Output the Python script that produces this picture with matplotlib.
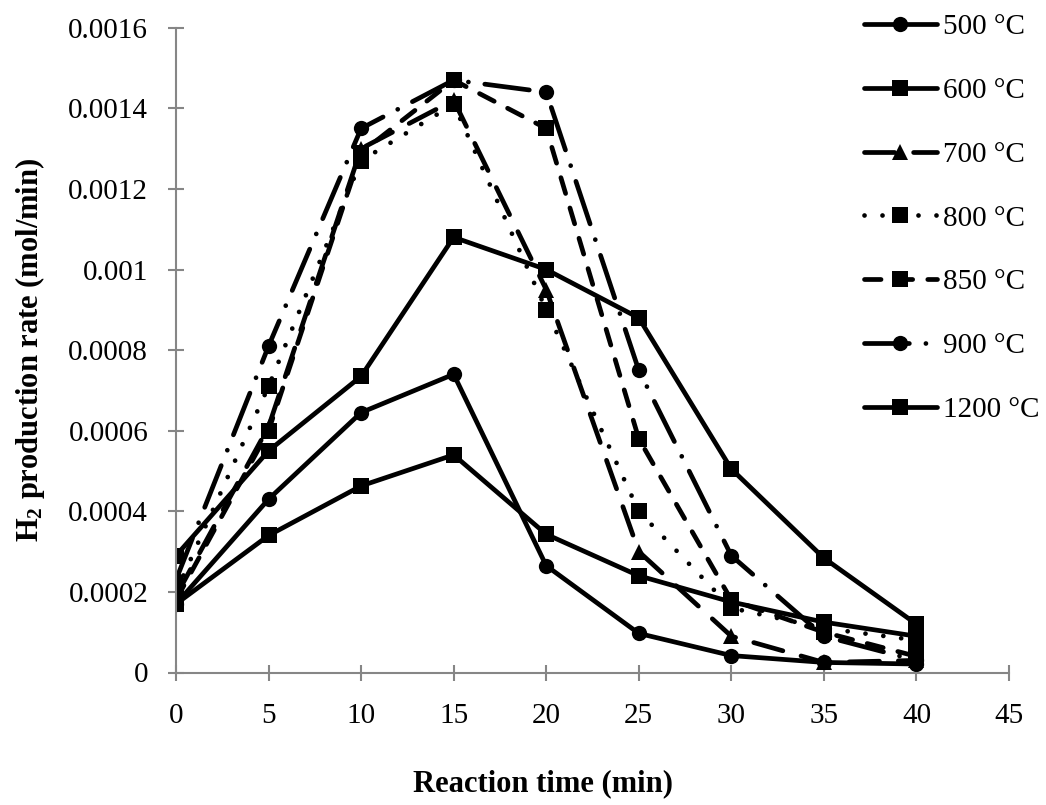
import matplotlib
matplotlib.use("Agg")
import matplotlib.pyplot as plt

plt.rcParams['font.family'] = ['Liberation Serif', 'DejaVu Serif']
plt.rcParams['mathtext.fontset'] = 'custom'
plt.rcParams['mathtext.rm'] = 'Liberation Serif'
plt.rcParams['mathtext.bf'] = 'Liberation Serif:bold'

#-----------------------
#      Data
#-----------------------
time_min = [0, 5, 10, 15, 20, 25, 30, 35, 40]

rate_500 = [0.00017, 0.00043, 0.000645, 0.00074, 0.000265, 0.000097, 0.000042, 0.000025, 0.000021]
rate_600 = [0.00017, 0.00034, 0.000463, 0.00054, 0.000343, 0.00024, 0.000175, 0.000125, 0.00009]
rate_700 = [0.00019, 0.00061, 0.0013, 0.00142, 0.00095, 0.0003, 0.00009, 0.000025, 0.00003]
rate_800 = [0.0002, 0.00071, 0.00127, 0.00141, 0.0009, 0.0004, 0.00016, 0.00011, 0.00008]
rate_850 = [0.00018, 0.0006, 0.00129, 0.00147, 0.00135, 0.00058, 0.00018, 0.0001, 0.00004]
rate_900 = [0.00023, 0.00081, 0.00135, 0.00147, 0.00144, 0.00075, 0.00029, 0.00009, 0.00003]
rate_1200 = [0.00029, 0.00055, 0.000735, 0.00108, 0.001, 0.00088, 0.000505, 0.000284, 0.00012]

labels = ['500 °C', '600 °C', '700 °C', '800 °C', '850 °C', '900 °C', '1200 °C']

xticks = [0, 5, 10, 15, 20, 25, 30, 35, 40, 45]
yticks = [0, 0.0002, 0.0004, 0.0006, 0.0008, 0.001, 0.0012, 0.0014, 0.0016]
ytick_labels = ['0', '0.0002', '0.0004', '0.0006', '0.0008', '0.001', '0.0012', '0.0014', '0.0016']

#-----------------------
#      Plot
#-----------------------
fig = plt.figure(figsize=(10.46, 8.05), dpi=100)
ax = fig.add_axes([176/1046, 1 - 672.5/805, (1009-176)/1046, (672.5-27.7)/805])

lw = 3.4
series = [
	(rate_500, 'o', None),
	(rate_600, 's', None),
	(rate_700, '^', (6.4, 4.0)),
	(rate_800, 's', (0.01, 3.8)),
	(rate_850, 's', (3.5, 3.2)),
	(rate_900, 'o', (9.5, 3.5, 0.01, 3.5)),
	(rate_1200, 's', None),
]

for (vals, mk, dash), lab in zip(series, labels):
	ms = 12 if mk == '^' else 11
	line, = ax.plot(time_min, vals, color='black', lw=lw, marker=mk, ms=ms,
					markeredgewidth=0, label=lab, solid_joinstyle='round',
					dash_capstyle='round', solid_capstyle='round')
	if dash is not None:
		line.set_dashes(dash)

ax.set_xlim(0, 45)
ax.set_ylim(0, 0.0016)
ax.set_xticks(xticks)
ax.set_xticklabels([str(v) for v in xticks])
ax.set_yticks(yticks)
ax.set_yticklabels(ytick_labels)

for s in ['top', 'right']:
	ax.spines[s].set_visible(False)
for s in ['left', 'bottom']:
	ax.spines[s].set_color('#868686')
	ax.spines[s].set_linewidth(1.5)
ax.tick_params(direction='inout', length=12, width=1.5, color='#868686',
			   labelsize=21, labelcolor='black')
ax.tick_params(axis='y', pad=14)
ax.tick_params(axis='x', pad=16)

ax.set_xlabel('Reaction time (min)', fontsize=22, fontweight='bold')
ax.xaxis.set_label_coords(0.44, -0.15)
ax.set_ylabel(r'$\mathbf{H_2}$ production rate (mol/min)', fontsize=22, fontweight='bold')
ax.yaxis.set_label_coords(-0.155, 0.5)

leg = fig.legend(loc='upper left', bbox_to_anchor=(864/1046, 1 - 14/805),
				 frameon=False, fontsize=21, handlelength=2.5, handletextpad=0.2,
				 labelspacing=1.28, borderaxespad=0, borderpad=0)

fig.savefig('out.png', dpi=100)
